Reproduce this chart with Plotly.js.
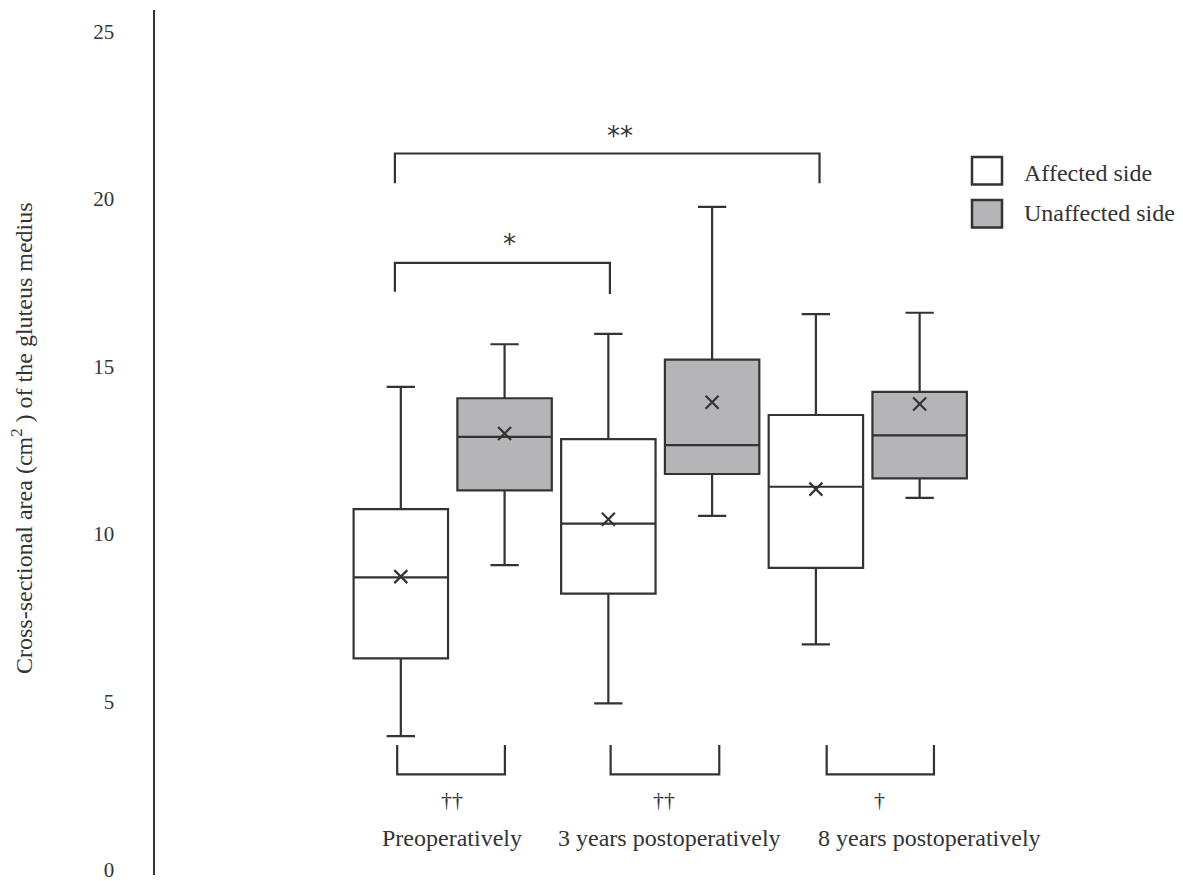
<!DOCTYPE html>
<html>
<head>
<meta charset="utf-8">
<script src="https://cdn.plot.ly/plotly-3.0.1.min.js"></script>
<style>html,body{margin:0;padding:0;background:#fff;}#chart{width:1183px;height:881px;}</style>
</head>
<body>
<div id="chart"></div>
<script>
// ---- data ----
const categories = ['Preoperatively', '3 years postoperatively', '8 years postoperatively'];
const seriesNames = ['Affected side', 'Unaffected side'];

const affLow    = [4.09, 5.07, 6.83];
const affQ1     = [6.41, 8.34, 9.11];
const affMedian = [8.83, 10.43, 11.53];
const affQ3     = [10.86, 12.95, 13.67];
const affHigh   = [14.51, 16.09, 16.68];
const affMean   = [8.85, 10.56, 11.46];

const unaLow    = [9.19, 10.66, 11.20];
const unaQ1     = [11.42, 11.91, 11.78];
const unaMedian = [13.02, 12.77, 13.06];
const unaQ3     = [14.17, 15.32, 14.36];
const unaHigh   = [15.78, 19.88, 16.72];
const unaMean   = [13.12, 14.05, 14.00];

const pairMarks = ['††', '††', '†'];
const yTicks = [0, 5, 10, 15, 20, 25];

// ---- style ----
const INK = '#333333';
const GRAY = '#b5b5b8';
const FONT = 'Liberation Serif, Times New Roman, serif';

const affX = categories.map((c, i) => 2 * i);
const unaX = categories.map((c, i) => 2 * i + 1);

function boxTrace(name, xs, low, q1, med, q3, high, fill) {
  return {
    type: 'box', name: name, x: xs,
    lowerfence: low, q1: q1, median: med, q3: q3, upperfence: high,
    width: 0.91, whiskerwidth: 0.3,
    fillcolor: fill, line: {color: INK, width: 2.2},
    boxpoints: false, showlegend: false, hoverinfo: 'y'
  };
}
function meanTrace(name, xs, ys) {
  return {
    type: 'scatter', mode: 'markers', name: name + ' mean', x: xs, y: ys,
    marker: {symbol: 'x-thin', size: 13, color: INK, line: {width: 2.2, color: INK}},
    showlegend: false, hoverinfo: 'y'
  };
}

const data = [
  boxTrace(seriesNames[0], affX, affLow, affQ1, affMedian, affQ3, affHigh, '#ffffff'),
  boxTrace(seriesNames[1], unaX, unaLow, unaQ1, unaMedian, unaQ3, unaHigh, GRAY),
  meanTrace(seriesNames[0], affX, affMean),
  meanTrace(seriesNames[1], unaX, unaMean)
];

// pixel -> paper helpers for legend placement
const PL = 155, PW = 1028, PT = 10, PH = 865;
const px = v => (v - PL) / PW;
const py = v => (PT + PH - v) / PH;

const bracketLine = {color: INK, width: 2.2};
const shapes = [
  // ** bracket
  {type: 'path', xref: 'x', yref: 'y', path: 'M -0.057,20.58 V 21.47 H 4.035 V 20.58', line: bracketLine},
  // * bracket
  {type: 'path', xref: 'x', yref: 'y', path: 'M -0.057,17.35 V 18.21 H 2.015 V 17.28', line: bracketLine}
];
// bottom brackets (affected vs unaffected within each period)
const botL = [-0.035, 2.022, 4.104], botR = [1.003, 3.069, 5.138];
categories.forEach((c, i) => {
  shapes.push({type: 'path', xref: 'x', yref: 'y',
    path: `M ${botL[i]},3.83 V 2.95 H ${botR[i]} V 3.83`, line: bracketLine});
});
// legend squares
shapes.push({type: 'rect', xref: 'paper', yref: 'paper', x0: px(972), x1: px(1002), y0: py(184.5), y1: py(157),
  fillcolor: '#ffffff', line: {color: INK, width: 2.5}});
shapes.push({type: 'rect', xref: 'paper', yref: 'paper', x0: px(972), x1: px(1002), y0: py(227.5), y1: py(200),
  fillcolor: GRAY, line: {color: INK, width: 2.5}});

const tf = {family: FONT, size: 24, color: INK};
const starFont = {family: 'DejaVu Sans, sans-serif', size: 26, color: INK};
const annotations = [
  {xref: 'x', yref: 'y', x: 2.11, y: 22.0, text: '**', showarrow: false, font: starFont},
  {xref: 'x', yref: 'y', x: 1.051, y: 18.77, text: '*', showarrow: false, font: starFont},
  {xref: 'paper', yref: 'paper', x: px(1022), y: py(172.5), xanchor: 'left', yanchor: 'middle', text: seriesNames[0], showarrow: false, font: tf},
  {xref: 'paper', yref: 'paper', x: px(1022), y: py(213), xanchor: 'left', yanchor: 'middle', text: seriesNames[1], showarrow: false, font: tf},
  {xref: 'paper', yref: 'paper', x: px(22), y: py(438), xanchor: 'center', yanchor: 'middle', textangle: -90,
   text: 'Cross-sectional area (cm<sup>2</sup> ) of the gluteus medius', showarrow: false, font: tf}
];
const markX = [0.495, 2.536, 4.617];
const labelX = [0.497, 2.593, 5.099];
categories.forEach((c, i) => {
  annotations.push({xref: 'x', yref: 'y', x: markX[i], y: 2.19, text: pairMarks[i], showarrow: false, font: {family: FONT, size: 22, color: INK}});
  annotations.push({xref: 'x', yref: 'y', x: labelX[i], y: 1.04, text: c, showarrow: false, font: tf});
});

const layout = {
  width: 1183, height: 881,
  margin: {l: PL, r: 1183 - PL - PW, t: PT, b: 881 - PT - PH, pad: 0},
  paper_bgcolor: '#ffffff', plot_bgcolor: '#ffffff',
  showlegend: false, boxmode: 'overlay',
  xaxis: {range: [-2.369, 7.538], showgrid: false, zeroline: false, showline: false, showticklabels: false, ticks: ''},
  yaxis: {range: [-0.05, 25.75], tickvals: yTicks, ticktext: yTicks.map(String),
    showgrid: false, zeroline: false, showline: true, linecolor: INK, linewidth: 2.5,
    ticks: '', ticklabelstandoff: 34, ticklabeloverflow: 'allow', ticklabelshift: -4,
    tickfont: {family: FONT, size: 21, color: INK}},
  shapes: shapes, annotations: annotations
};

Plotly.newPlot('chart', data, layout, {displayModeBar: false, staticPlot: true});
</script>
</body>
</html>
